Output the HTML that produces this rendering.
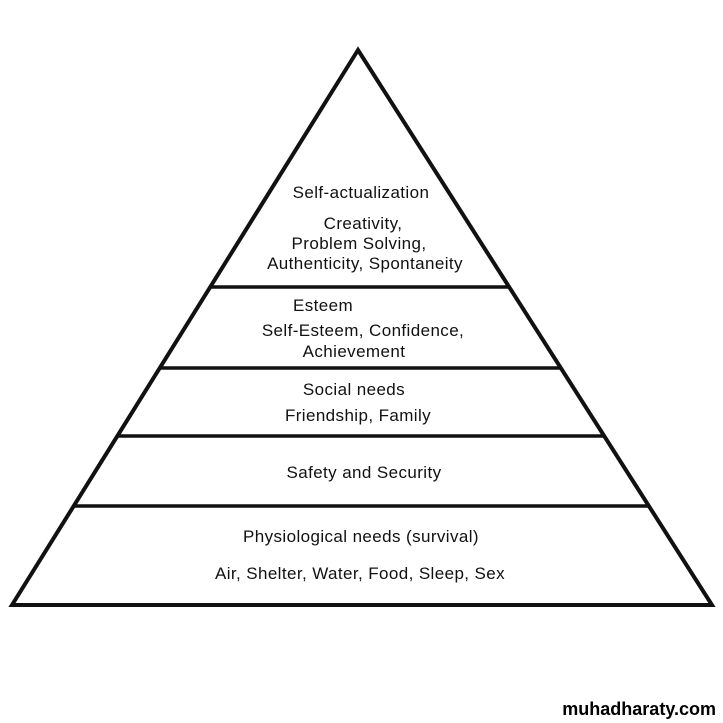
<!DOCTYPE html>
<html><head><meta charset="utf-8"><style>
html,body{margin:0;padding:0;background:#fff;}
svg{display:block;}
text{font-family:"Liberation Sans",Arial,sans-serif;font-size:17px;letter-spacing:0.4px;fill:#111;}
</style></head><body>
<svg width="723" height="723" viewBox="0 0 723 723" xmlns="http://www.w3.org/2000/svg">
<polygon points="358,50 12,605 712,605" fill="#fff" stroke="#111" stroke-width="4" stroke-linejoin="miter"/>
<line x1="210" y1="287" x2="509" y2="287" stroke="#111" stroke-width="3.5"/>
<line x1="159" y1="368" x2="561" y2="368" stroke="#111" stroke-width="3.5"/>
<line x1="117" y1="436" x2="604" y2="436" stroke="#111" stroke-width="3.5"/>
<line x1="73" y1="506" x2="649" y2="506" stroke="#111" stroke-width="3.5"/>
<g text-anchor="middle">
<text x="361" y="198">Self-actualization</text>
<text x="363" y="229">Creativity,</text>
<text x="359" y="249">Problem Solving,</text>
<text x="365" y="269">Authenticity, Spontaneity</text>
<text x="323" y="311">Esteem</text>
<text x="363" y="336">Self-Esteem, Confidence,</text>
<text x="354" y="357">Achievement</text>
<text x="354" y="395">Social needs</text>
<text x="358" y="421">Friendship, Family</text>
<text x="364" y="478">Safety and Security</text>
<text x="361" y="542">Physiological needs (survival)</text>
<text x="360" y="579">Air, Shelter, Water, Food, Sleep, Sex</text>
</g>
<text x="716" y="715" text-anchor="end" style="font-size:18px;font-weight:bold;letter-spacing:0;fill:#000">muhadharaty.com</text>
</svg>
</body></html>
